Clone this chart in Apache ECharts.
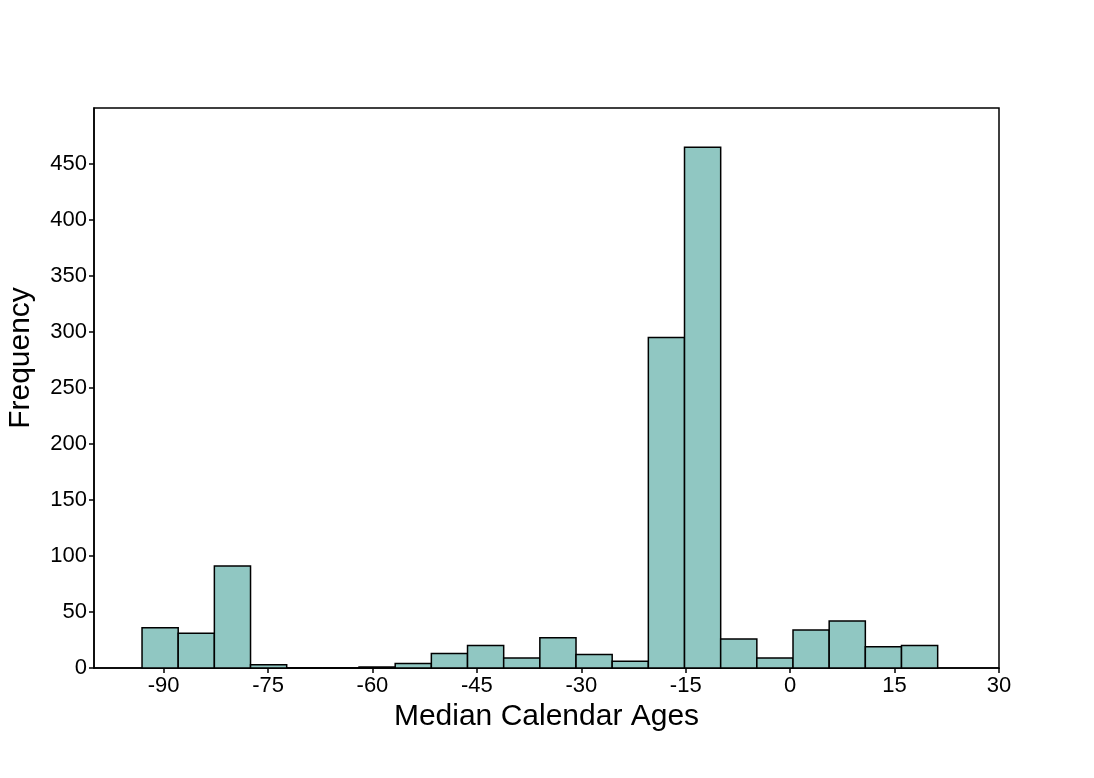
<!DOCTYPE html>
<html>
<head>
<meta charset="utf-8">
<script src="https://cdn.jsdelivr.net/npm/echarts@6/dist/echarts.min.js"></script>
<style>
  html, body { margin: 0; padding: 0; background: #fff; }
  #chart { width: 1094px; height: 778px; }
</style>
</head>
<body>
<div id="chart"></div>
<script>
// 直方图数据：每个 bin 的频数
const binStart = -93.1;
const binWidth = 5.195;
const counts = [36, 31, 91, 3, 0, 0, 1, 4, 13, 20, 9, 27, 12, 6, 295, 465, 26, 9, 34, 42, 19, 20];
const xTicks = [-90, -75, -60, -45, -30, -15, 0, 15, 30];
const yTicks = [0, 50, 100, 150, 200, 250, 300, 350, 400, 450];

const bins = counts.map((c, i) => [binStart + i * binWidth, binStart + (i + 1) * binWidth, c]);

const myChart = echarts.init(document.getElementById('chart'));

const option = {
    animation: false,
    textStyle: { fontFamily: 'Liberation Sans, Arial, sans-serif' },
    grid: {
        left: 94, right: 95, top: 108, bottom: 110,
        show: true, borderColor: '#000', borderWidth: 1.5
    },
    // y 轴标题单独放，位置比轴中心略高
    graphic: [{
        type: 'text',
        x: 21, y: 358,
        rotation: Math.PI / 2,
        style: {
            text: 'Frequency',
            font: '30px "Liberation Sans", Arial, sans-serif',
            fill: '#000',
            textAlign: 'center',
            textVerticalAlign: 'middle'
        }
    }],
    xAxis: {
        type: 'value',
        min: -100, max: 30,
        name: 'Median Calendar Ages',
        nameLocation: 'middle',
        nameGap: 28,
        nameTextStyle: { fontSize: 30, color: '#000' },
        splitLine: { show: false },
        axisLine: { onZero: false, lineStyle: { color: '#000', width: 1.5 } },
        axisTick: { customValues: xTicks, length: 5, lineStyle: { color: '#000', width: 1.5 } },
        axisLabel: { customValues: xTicks, fontSize: 22, color: '#000', margin: 7 }
    },
    yAxis: {
        type: 'value',
        min: 0, max: 500,
        splitLine: { show: false },
        axisLine: { show: true, onZero: false, lineStyle: { color: '#000', width: 1.5 } },
        axisTick: { customValues: yTicks, length: 5, lineStyle: { color: '#000', width: 1.5 } },
        axisLabel: { customValues: yTicks, fontSize: 22, color: '#000', margin: 7 }
    },
    series: [{
        type: 'custom',
        data: bins,
        encode: { x: [0, 1], y: 2 },
        renderItem: function (params, api) {
            const p0 = api.coord([api.value(0), 0]);
            const p1 = api.coord([api.value(1), api.value(2)]);
            return {
                type: 'rect',
                shape: { x: p0[0], y: p1[1], width: p1[0] - p0[0], height: p0[1] - p1[1] },
                style: { fill: '#90c7c2', stroke: '#000', lineWidth: 1.5 }
            };
        }
    }]
};

myChart.setOption(option);
</script>
</body>
</html>
